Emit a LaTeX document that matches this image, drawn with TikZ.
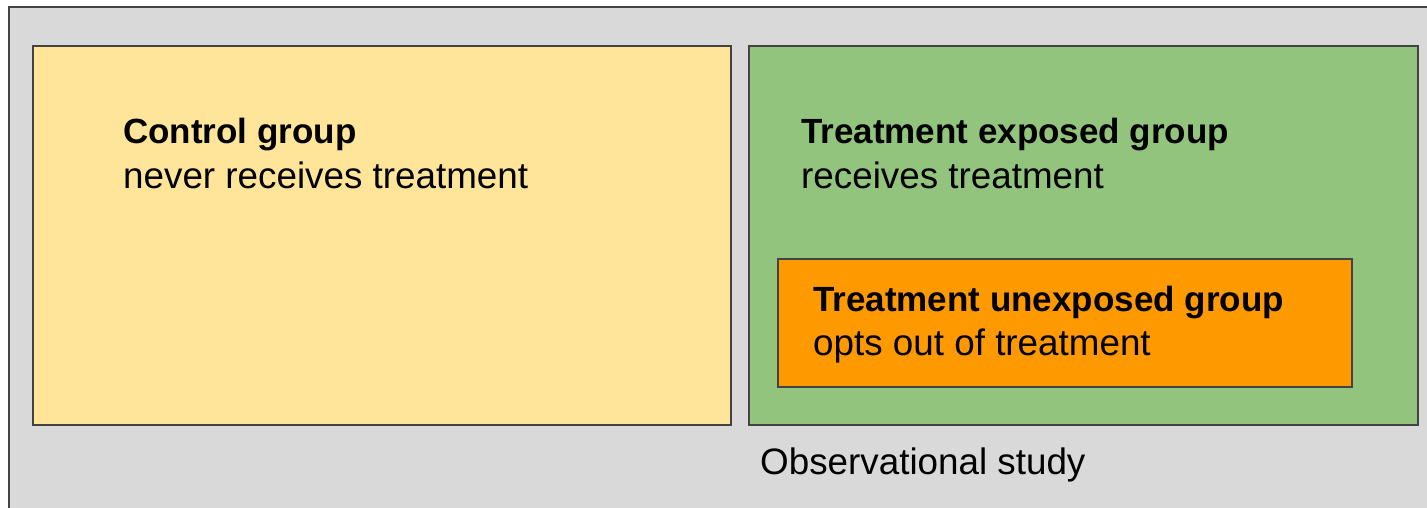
\documentclass[tikz,border=0pt]{standalone}
\usepackage{fontspec}
\setmainfont{Liberation Sans}
\definecolor{bggray}{HTML}{D9D9D9}
\definecolor{yel}{HTML}{FFE599}
\definecolor{grn}{HTML}{93C47D}
\definecolor{org}{HTML}{FF9900}
\definecolor{edge}{HTML}{434343}
\tikzset{
  panel/.style={draw=edge, line width=2pt},
  title/.style={anchor=base west, inner sep=0pt, font=\fontsize{35}{40}\selectfont\bfseries},
  sub/.style={anchor=base west, inner sep=0pt, font=\fontsize{36.8}{40}\selectfont},
}
\begin{document}
\begin{tikzpicture}[x=1pt,y=-1pt]
\useasboundingbox (0,0) rectangle (1427,508);
\clip (0,0) rectangle (1427,508);
\fill[white] (0,0) rectangle (1427,508);
\draw[panel, fill=bggray] (9,7) rectangle (1450,530);
\draw[panel, fill=yel] (33,46) rectangle (731,425);
\draw[panel, fill=grn] (749,46) rectangle (1418,425);
\draw[panel, fill=org] (778,259) rectangle (1352,387);
\node[title] (ct) at (123,144) {Control group};
\node[sub] (cs) at (123,188) {never receives treatment};
\node[title] (et) at (801,144) {Treatment exposed group};
\node[sub] (es) at (801,188) {receives treatment};
\node[title] (ut) at (813,311) {Treatment unexposed group};
\node[sub] (us) at (813,355) {opts out of treatment};
\node[sub] (obs) at (760,474) {Observational study};
\end{tikzpicture}
\end{document}
